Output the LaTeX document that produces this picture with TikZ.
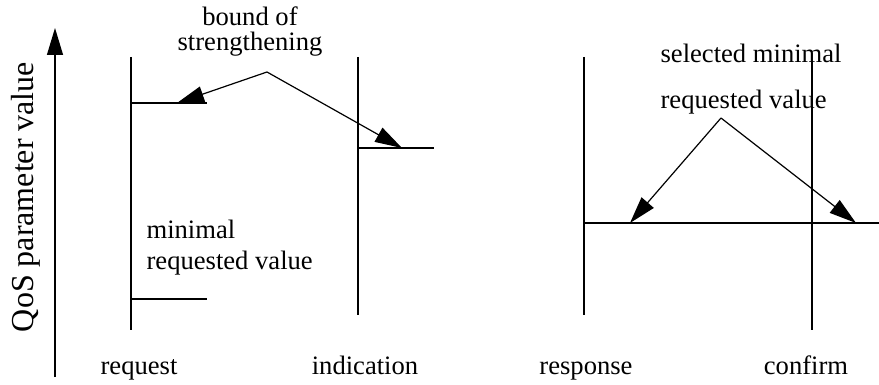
\documentclass[tikz,border=0pt]{standalone}
\usepackage{fontspec}
\setmainfont{Liberation Serif}
\usetikzlibrary{positioning,arrows.meta}

\begin{document}
\begin{tikzpicture}[x=0.5pt, y=-0.5pt, line width=0.6pt,
  every node/.style={font=\fontsize{13.3}{16}\selectfont, inner sep=0pt},
  tip/.style={-{Triangle[length=13.5pt,width=8pt]}},
  prim/.style={anchor=base}]
  \useasboundingbox (0,0) rectangle (879,385);
  % value axis
  \coordinate (ax0) at (55,377);
  \coordinate (ax1) at (55,28);
  \draw[tip] (ax0) -- (ax1);
  \node[rotate=90, anchor=base, font=\fontsize{16}{19}\selectfont] (qos) at (33,197) {QoS parameter value};
  % service primitives
  \coordinate (rqt) at (131,57);  \coordinate (rqb) at (131,330);
  \coordinate (int) at (358,57);  \coordinate (inb) at (358,315);
  \coordinate (rst) at (584,57);  \coordinate (rsb) at (584,315);
  \coordinate (cft) at (812,62);  \coordinate (cfb) at (812,330);
  \draw (rqt) -- (rqb);
  \draw (int) -- (inb);
  \draw (rst) -- (rsb);
  \draw (cft) -- (cfb);
  \node[prim] (req) at (139,374) {request};
  \node[prim] (ind) at (365,374) {indication};
  \node[prim] (rsp) at (586,374) {response};
  \node[prim] (cnf) at (806,374) {confirm};
  % values
  \coordinate (bnd1) at (131,103); \coordinate (bnd1e) at (207,103);
  \coordinate (min1) at (131,299); \coordinate (min1e) at (207,299);
  \coordinate (bnd2) at (358,148); \coordinate (bnd2e) at (434,148);
  \coordinate (sel) at (584,223);  \coordinate (sele) at (879,223);
  \draw (bnd1) -- (bnd1e);
  \draw (min1) -- (min1e);
  \draw (bnd2) -- (bnd2e);
  \draw (sel) -- (sele);
  % labels (base = last line)
  \node[anchor=base, align=center, font=\fontsize{13.3}{12.5}\selectfont] (bndlbl) at (250,51) {bound of\\strengthening};
  \node[anchor=base west, align=left, font=\fontsize{13.3}{16}\selectfont] (minlbl) at (146,270) {minimal\\requested value};
  \node[anchor=base west, align=left, font=\fontsize{13.3}{23}\selectfont] (sellbl) at (660,109) {selected minimal\\requested value};
  \coordinate (bndp) at (267,72);
  \coordinate (selp) at (721,118);
  \coordinate (bt1) at (177,103); \coordinate (bt2) at (402,148);
  \coordinate (st1) at (630,223); \coordinate (st2) at (856,223);
  \draw[tip] (bndp) -- (bt1);
  \draw[tip] (bndp) -- (bt2);
  \draw[tip] (selp) -- (st1);
  \draw[tip] (selp) -- (st2);
\end{tikzpicture}
\end{document}
